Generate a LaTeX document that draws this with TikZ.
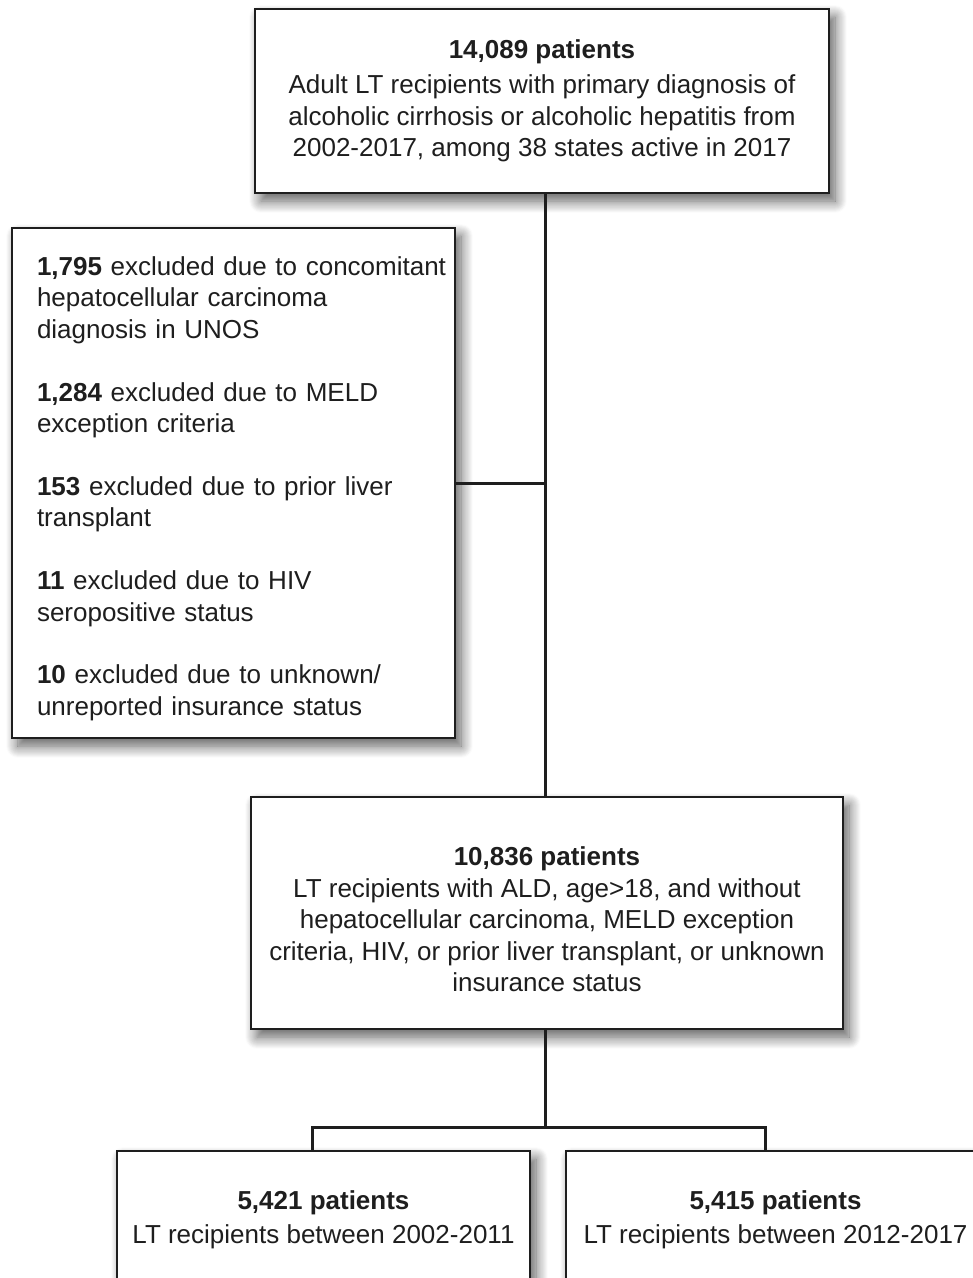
\documentclass[tikz,border=0pt]{standalone}
\usepackage{fontspec}
\setmainfont{Liberation Sans}
\usetikzlibrary{shadows.blur}
\definecolor{ink}{HTML}{1E1E1E}
\newcommand{\boxfont}{\fontsize{26}{31.5}\selectfont\hyphenpenalty=10000\relax\exhyphenpenalty=10000\relax}
\begin{document}
\begin{tikzpicture}[x=1pt,y=-1pt,
  box/.style={draw=ink, line width=1.6pt, fill=white, rectangle, inner sep=0pt, text=ink,
     font=\boxfont, align=center,
     blur shadow={shadow xshift=6pt, shadow yshift=-8pt, shadow blur radius=12pt, shadow blur steps=12, shadow opacity=65}},
  conn/.style={draw=ink, line width=3pt}]
\useasboundingbox (0,0) rectangle (973,1278);
\clip (0,0) rectangle (973,1278);

\node[box, minimum width=574pt, minimum height=184pt] (top) at (542,101)
  {{\bfseries 14,089 patients}\\[4pt]
   Adult LT recipients with primary diagnosis of\\
   alcoholic cirrhosis or alcoholic hepatitis from\\
   2002-2017, among 38 states active in 2017};

\node[box, align=left, text width=393pt, inner xsep=25pt, minimum width=443pt, minimum height=510pt] (excl) at (233.5,483)
  {\rule{0pt}{30pt}\mbox{{\bfseries 1,795} excluded due to concomitant}\\
   hepatocellular carcinoma\\
   diagnosis in UNOS\\[31.3pt]
   {\bfseries 1,284} excluded due to MELD\\
   exception criteria\\[31.3pt]
   {\bfseries 153} excluded due to prior liver\\
   transplant\\[31.3pt]
   {\bfseries 11} excluded due to HIV\\
   seropositive status\\[31.3pt]
   {\bfseries 10} excluded due to unknown/\\
   unreported insurance status};

\node[box, minimum width=592pt, minimum height=232pt] (mid) at (547,913)
  {\rule{0pt}{32pt}{\bfseries 10,836 patients}\\
   LT recipients with ALD, age>18, and without\\
   hepatocellular carcinoma, MELD exception\\
   criteria, HIV, or prior liver transplant, or unknown\\
   insurance status};

\node[box, minimum width=413pt, minimum height=138pt] (early) at (323.5,1220)
  {{\bfseries 5,421 patients}\\[2pt]
   LT recipients between 2002-2011};

\node[box, minimum width=419pt, minimum height=138pt] (late) at (775.5,1220)
  {{\bfseries 5,415 patients}\\[2pt]
   LT recipients between 2012-2017};

\coordinate (j1) at (545,483);
\coordinate (j2) at (545,1127);
\coordinate (cl) at (312,1127);
\coordinate (cr) at (765,1127);

\draw[conn] (top.south -| j1) -- (mid.north -| j1);
\draw[conn] (excl.east |- j1) -- (j1);
\draw[conn] (mid.south -| j2) -- (j2);
\draw[conn, line cap=rect] (cl) -- (cr);
\draw[conn] (cl) -- (early.north -| cl);
\draw[conn] (cr) -- (late.north -| cr);
\end{tikzpicture}
\end{document}
